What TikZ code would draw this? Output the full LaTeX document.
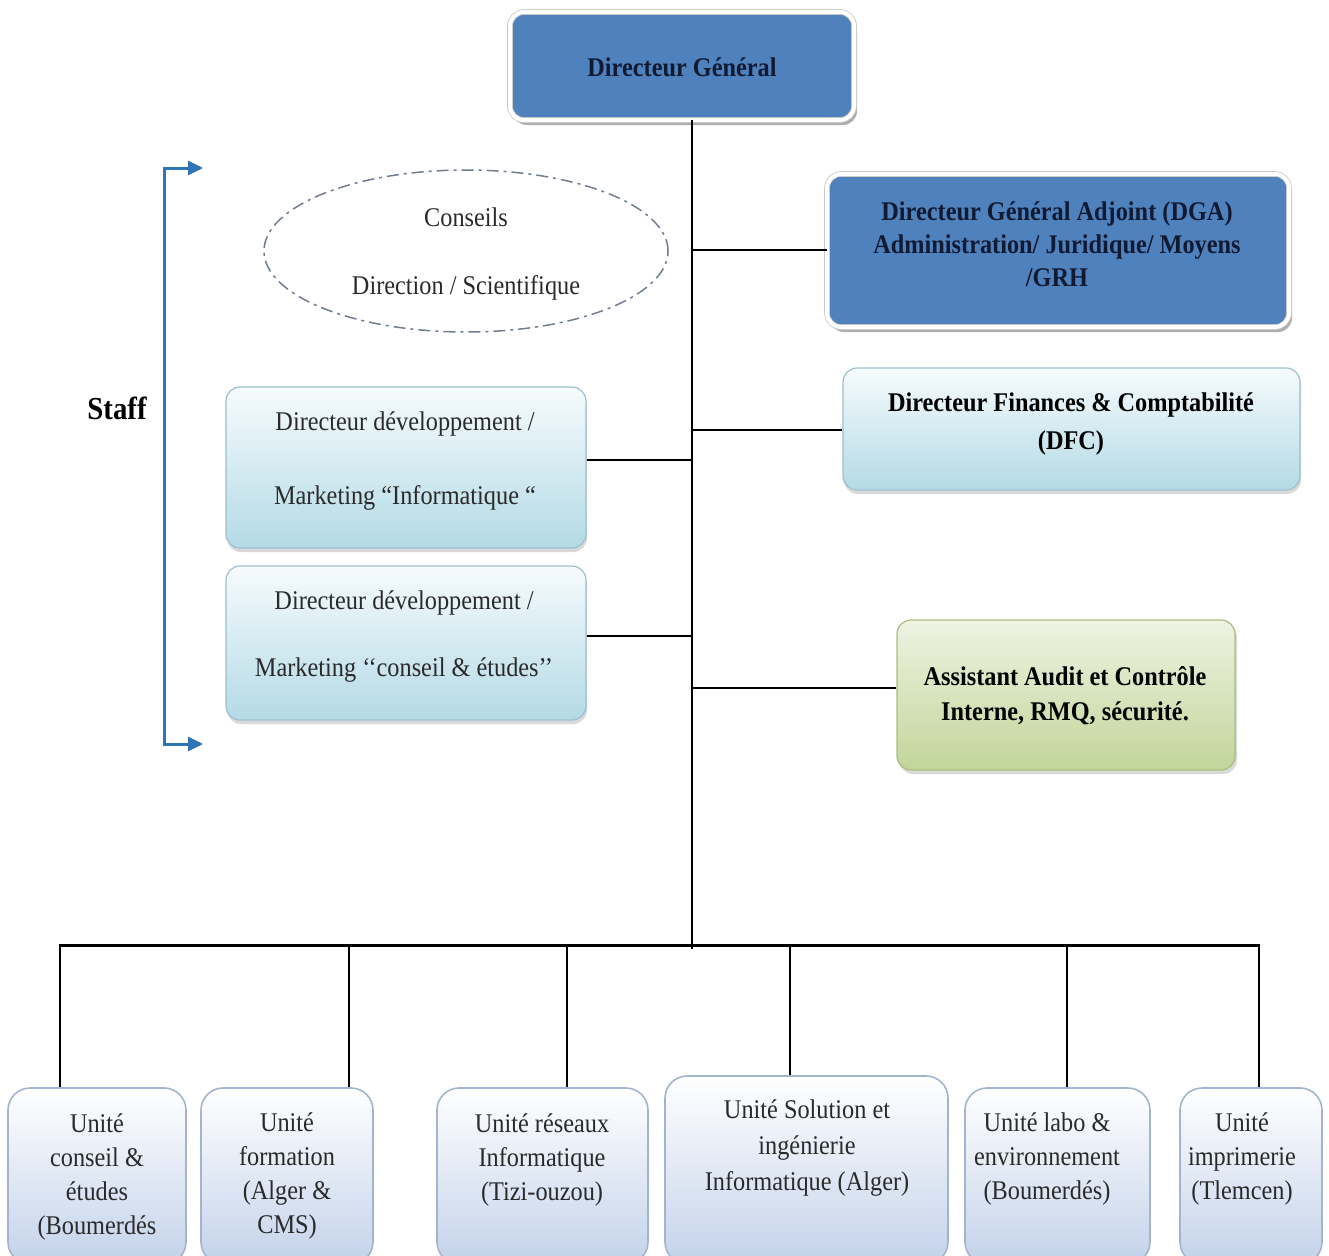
\documentclass[tikz,border=0pt]{standalone}
\usepackage{fontspec}
\setmainfont{Liberation Serif}[FakeStretch=0.9]
\usetikzlibrary{shapes.geometric,shadows,arrows.meta}

\definecolor{dgblue}{HTML}{4F81BD}
\definecolor{navy}{HTML}{111A33}
\definecolor{txtgray}{HTML}{2A2A2A}
\definecolor{lbtop}{HTML}{F6FBFD}
\definecolor{lbbot}{HTML}{B4DAE6}
\definecolor{lbedge}{HTML}{9CC0D0}
\definecolor{grtop}{HTML}{EEF3E2}
\definecolor{grbot}{HTML}{C2D59A}
\definecolor{gredge}{HTML}{A9BD7F}
\definecolor{unbot}{HTML}{C3D2EA}
\definecolor{unedge}{HTML}{A3B4CF}
\definecolor{staffblue}{HTML}{2E75B6}
\definecolor{elcol}{HTML}{6F7C92}

\begin{document}
\begin{tikzpicture}[x=1pt,y=-1pt,
  box/.style={rectangle, rounded corners=14pt, inner sep=0pt},
  bluebox/.style={box, fill=dgblue, draw=black!22, line width=0.8pt,
    double=white, double distance=4pt,
    drop shadow={shadow xshift=3pt, shadow yshift=-5pt, opacity=0.45, fill=black!70}},
  lightbox/.style={box, top color=lbtop, bottom color=lbbot, draw=lbedge, line width=1.2pt,
    drop shadow={shadow xshift=1pt, shadow yshift=-4pt, opacity=0.3}},
  greenbox/.style={box, top color=grtop, bottom color=grbot, draw=gredge, line width=1.2pt,
    drop shadow={shadow xshift=2pt, shadow yshift=-4pt, opacity=0.3}},
  unitbox/.style={rectangle, rounded corners=22pt, inner sep=0pt, top color=white,
    bottom color=unbot, draw=unedge, line width=1.6pt},
  txt/.style={align=center, inner sep=0pt, text=txtgray, font=\fontsize{27}{33}\selectfont},
  btxt/.style={align=center, inner sep=0pt, text=navy, font=\fontsize{27}{33}\selectfont\bfseries},
  utxt/.style={align=center, inner sep=0pt, text=txtgray, font=\fontsize{27}{34}\selectfont},
  link/.style={draw=black, line width=1.8pt},
  buslink/.style={draw=black, line width=3pt},
  staffline/.style={draw=staffblue, line width=3pt,
    {Triangle[length=15pt,width=14pt]}-{Triangle[length=15pt,width=14pt]}}
]
\useasboundingbox (0,0) rectangle (1329,1255);
\clip (0,0) rectangle (1329,1255);

% --- upper boxes ---
\node[bluebox, minimum width=344pt, minimum height=108pt] (dg) at (682,66) {};
\node[btxt] (dgt) at (682,67) {Directeur Général};

\node[bluebox, minimum width=462pt, minimum height=153pt] (dga) at (1058,250.5) {};
\node[btxt] (dgat) at (1057,244) {Directeur Général Adjoint (DGA)\\Administration/ Juridique/ Moyens\\/GRH};

\node[lightbox, minimum width=457pt, minimum height=122pt] (dfc) at (1071.5,429) {};
\node[btxt, text=black] (dfct) at (1071,424) {Directeur Finances \& Comptabilité\\[5pt](DFC)};

\node[greenbox, minimum width=338pt, minimum height=150pt] (aud) at (1066,695) {};
\node[btxt, text=black] (audt) at (1065,695.5) {Assistant Audit et Contrôle\\[2pt]Interne, RMQ, sécurité.};

\node[ellipse, draw=elcol, line width=1.5pt, dash pattern=on 12pt off 5pt on 3pt off 5pt,
      minimum width=404pt, minimum height=162pt, inner sep=0pt] (cons) at (466,251) {};
\node[txt] (const) at (466,254) {Conseils\\[35pt]Direction / Scientifique};

\node[lightbox, minimum width=360pt, minimum height=161pt] (dev1) at (406,467.5) {};
\node[txt] (dev1t) at (405,461) {Directeur développement /\\[41pt]Marketing “Informatique “};

\node[lightbox, minimum width=360pt, minimum height=154pt] (dev2) at (406,643) {};
\node[txt] (dev2t) at (404,636.5) {Directeur développement /\\[34pt]Marketing ‘‘conseil \& études’’};

% --- staff bracket ---
\node[font=\fontsize{32}{36}\selectfont\bfseries, text=black, inner sep=0pt] (staff) at (117,408) {Staff};
\coordinate (staffTop) at (203,168);
\coordinate (staffBot) at (203,744);
\draw[staffline] (staffTop) -- (164,168) -- (164,744) -- (staffBot);

% --- units ---
\node[unitbox, minimum width=178pt, minimum height=176pt] (u1) at (97,1176) {};
\node[unitbox, minimum width=172pt, minimum height=176pt] (u2) at (287,1176) {};
\node[unitbox, minimum width=211pt, minimum height=176pt] (u3) at (542.5,1176) {};
\node[unitbox, minimum width=283pt, minimum height=188pt] (u4) at (806.5,1170) {};
\node[unitbox, minimum width=185pt, minimum height=176pt] (u5) at (1057.5,1176) {};
\node[unitbox, minimum width=142pt, minimum height=176pt] (u6) at (1251,1176) {};

\node[utxt] (u1t) at (97,1176.5) {Unité\\conseil \&\\études\\(Boumerdés};
\node[utxt] (u2t) at (287,1176) {Unité\\formation\\(Alger \&\\CMS)};
\node[utxt] (u3t) at (542,1159.5) {Unité réseaux\\Informatique\\(Tizi-ouzou)};
\node[utxt, font=\fontsize{27}{36}\selectfont] (u4t) at (807,1148) {Unité Solution et\\ingénierie\\Informatique (Alger)};
\node[utxt] (u5t) at (1047,1158.5) {Unité labo \&\\environnement\\(Boumerdés)};
\node[utxt] (u6t) at (1242,1158.5) {Unité\\imprimerie\\(Tlemcen)};

% --- trunk and branches ---
\coordinate (jbus) at (692,945);
\draw[link] (dg.south -| jbus) -- ([yshift=-4pt]jbus);
\draw[link] ([yshift=0.5pt]dga.west) -- ([yshift=0.5pt]dga.west -| jbus);
\draw[link] ([yshift=-1pt]dfc.west) -- ([yshift=-1pt]dfc.west -| jbus);
\draw[link] ([yshift=7.5pt]dev1.east) -- ([yshift=7.5pt]dev1.east -| jbus);
\draw[link] ([yshift=7pt]dev2.east) -- ([yshift=7pt]dev2.east -| jbus);
\draw[link] ([yshift=7pt]aud.west) -- ([yshift=7pt]aud.west -| jbus);

% --- bus to units ---
\coordinate (b1) at (60,945);
\coordinate (b2) at (349,945);
\coordinate (b3) at (567,945);
\coordinate (b4) at (790,945);
\coordinate (b5) at (1067,945);
\coordinate (b6) at (1259,945);
\draw[buslink] ([xshift=-1pt]b1) -- ([xshift=1pt]b6);
\draw[link] (b1) -- (b1 |- u1.north);
\draw[link] (b2) -- (b2 |- u2.north);
\draw[link] (b3) -- (b3 |- u3.north);
\draw[link] (b4) -- (b4 |- u4.north);
\draw[link] (b5) -- (b5 |- u5.north);
\draw[link] (b6) -- (b6 |- u6.north);
\end{tikzpicture}
\end{document}
